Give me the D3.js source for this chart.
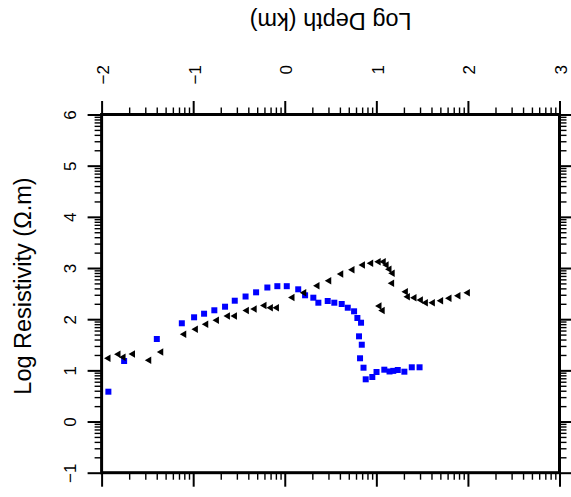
<!DOCTYPE html>
<html>
<head>
<meta charset="utf-8">
<script src="https://cdn.jsdelivr.net/npm/d3@7"></script>
<style>
  html, body { margin: 0; padding: 0; background: #fff; }
  svg { display: block; }
  text { font-family: "Liberation Sans", Arial, Helvetica, sans-serif; fill: #000; }
</style>
</head>
<body>
<svg id="chart" width="571" height="497"></svg>
<script>
// ---- data (log10 depth km, log10 resistivity ohm.m) ----
const blueDepth = [-1.926, -1.754, -1.397, -1.124, -0.990, -0.881, -0.769, -0.652, -0.546, -0.428,
  -0.313, -0.190, -0.081, 0.022, 0.147, 0.222, 0.312, 0.367, 0.469, 0.541,
  0.622, 0.688, 0.757, 0.793, 0.833, 0.811, 0.841, 0.822, 0.860, 0.884,
  0.956, 1.002, 1.087, 1.144, 1.185, 1.234, 1.306, 1.387, 1.472];
const blueRes = [0.583, 1.183, 1.613, 1.920, 2.037, 2.107, 2.174, 2.244, 2.361, 2.443,
  2.525, 2.619, 2.645, 2.645, 2.584, 2.467, 2.420, 2.322, 2.355, 2.322,
  2.297, 2.224, 2.154, 2.023, 1.931, 1.665, 1.501, 1.236, 1.052, 0.825,
  0.870, 0.968, 1.013, 0.978, 0.990, 1.007, 0.974, 1.060, 1.060];

const blackDepth = [-1.926, -1.817, -1.762, -1.659, -1.481, -1.350, -1.099, -0.972, -0.859, -0.742,
  -0.622, -0.546, -0.415, -0.330, -0.223, -0.153, -0.087, 0.083, 0.211, 0.356,
  0.484, 0.615, 0.738, 0.852, 0.942, 1.024, 1.079, 1.111, 1.142, 1.177,
  1.171, 1.033, 1.068, 1.321, 1.343, 1.415, 1.485, 1.539, 1.616, 1.706,
  1.797, 1.895, 1.998];
const blackRes = [1.236, 1.314, 1.255, 1.320, 1.196, 1.359, 1.704, 1.802, 1.900, 1.978,
  2.062, 2.062, 2.170, 2.199, 2.267, 2.224, 2.224, 2.424, 2.517, 2.654,
  2.752, 2.883, 2.967, 3.059, 3.092, 3.123, 3.123, 3.059, 2.975, 2.897,
  2.701, 2.258, 2.170, 2.537, 2.439, 2.420, 2.375, 2.322, 2.322, 2.361,
  2.408, 2.459, 2.517];

const xTicks = [-2, -1, 0, 1, 2, 3];
const yTicks = [-1, 0, 1, 2, 3, 4, 5, 6];
const xTitle = "Log Depth (km)";
const yTitle = "Log Resistivity (\u03A9.m)";

// ---- layout ----
const L = 101.6, R = 559.5, T = 114.5, B = 472.7;
const x = d3.scaleLinear().domain([-2, 3]).range([L, R]);
const y = d3.scaleLinear().domain([-1, 6]).range([B, T]);

const logMinor = (ticks) => {
  const out = [];
  for (let i = 0; i < ticks.length - 1; i++)
    for (let k = 2; k <= 9; k++) out.push(ticks[i] + Math.log10(k));
  return out;
};
const xMinor = logMinor(xTicks);
const yMinor = logMinor(yTicks);

const svg = d3.select("#chart");
const fmt = d3.format("d");

// points
const g = svg.append("g");
g.selectAll("path.sq").data(blueDepth.map((d, i) => [d, blueRes[i]]))
  .join("path").attr("class", "sq")
  .attr("d", d3.symbol(d3.symbolSquare, 36)())
  .attr("transform", d => `translate(${x(d[0])},${y(d[1])})`)
  .attr("fill", "#0000ff");
g.selectAll("path.tri").data(blackDepth.map((d, i) => [d, blackRes[i]]))
  .join("path").attr("class", "tri")
  .attr("d", d3.symbol(d3.symbolTriangle, 24)())
  .attr("transform", d => `translate(${x(d[0])},${y(d[1])}) rotate(-90)`)
  .attr("fill", "#000");

function styleAxis(sel, w) {
  sel.select(".domain").remove();
  sel.selectAll(".tick line").attr("stroke", "#000").attr("stroke-width", w);
}

// minor ticks
const minorAxes = [
  [d3.axisTop(x).tickValues(xMinor), `translate(0,${T})`],
  [d3.axisBottom(x).tickValues(xMinor), `translate(0,${B})`],
  [d3.axisLeft(y).tickValues(yMinor), `translate(${L},0)`],
  [d3.axisRight(y).tickValues(yMinor), `translate(${R},0)`]
];
minorAxes.forEach(([ax, tr]) => {
  const a = svg.append("g").attr("transform", tr)
    .call(ax.tickSize(7).tickSizeOuter(0).tickFormat(""));
  styleAxis(a, 1.4);
});

// major ticks
const topAx = svg.append("g").attr("transform", `translate(0,${T})`)
  .call(d3.axisTop(x).tickValues(xTicks).tickSize(13.5).tickSizeOuter(0).tickFormat(fmt));
styleAxis(topAx, 2);
topAx.attr("font-size", null).attr("font-family", null);
topAx.selectAll(".tick text")
  .attr("x", 0).attr("y", 0).attr("dy", "0.36em")
  .attr("text-anchor", "end")
  .style("font-size", "17px")
  .attr("transform", "translate(0.8,-49.5) rotate(-90)");

const botAx = svg.append("g").attr("transform", `translate(0,${B})`)
  .call(d3.axisBottom(x).tickValues(xTicks).tickSize(14).tickSizeOuter(0).tickFormat(""));
styleAxis(botAx, 2);

const leftAx = svg.append("g").attr("transform", `translate(${L},0)`)
  .call(d3.axisLeft(y).tickValues(yTicks).tickSize(14).tickSizeOuter(0).tickFormat(fmt));
styleAxis(leftAx, 2);
leftAx.attr("font-size", null).attr("font-family", null);
leftAx.selectAll(".tick text")
  .attr("x", 0).attr("y", 0).attr("dy", "0.36em")
  .attr("text-anchor", "middle")
  .style("font-size", "17px")
  .attr("transform", "translate(-31.6,0) rotate(-90)");

const rightAx = svg.append("g").attr("transform", `translate(${R},0)`)
  .call(d3.axisRight(y).tickValues(yTicks).tickSize(14).tickSizeOuter(0).tickFormat(""));
styleAxis(rightAx, 2);

// frame
svg.append("rect")
  .attr("x", L).attr("y", T).attr("width", R - L).attr("height", B - T)
  .attr("fill", "none").attr("stroke", "#000").attr("stroke-width", 3);

// titles
svg.append("text")
  .attr("transform", `translate(${(L + R) / 2},12.7) rotate(180)`)
  .attr("text-anchor", "middle")
  .style("font-size", "23.5px")
  .text(xTitle);
svg.append("text")
  .attr("transform", `translate(30.7,286) rotate(-90)`)
  .attr("text-anchor", "middle")
  .style("font-size", "23.5px")
  .text(yTitle);
</script>
</body>
</html>
